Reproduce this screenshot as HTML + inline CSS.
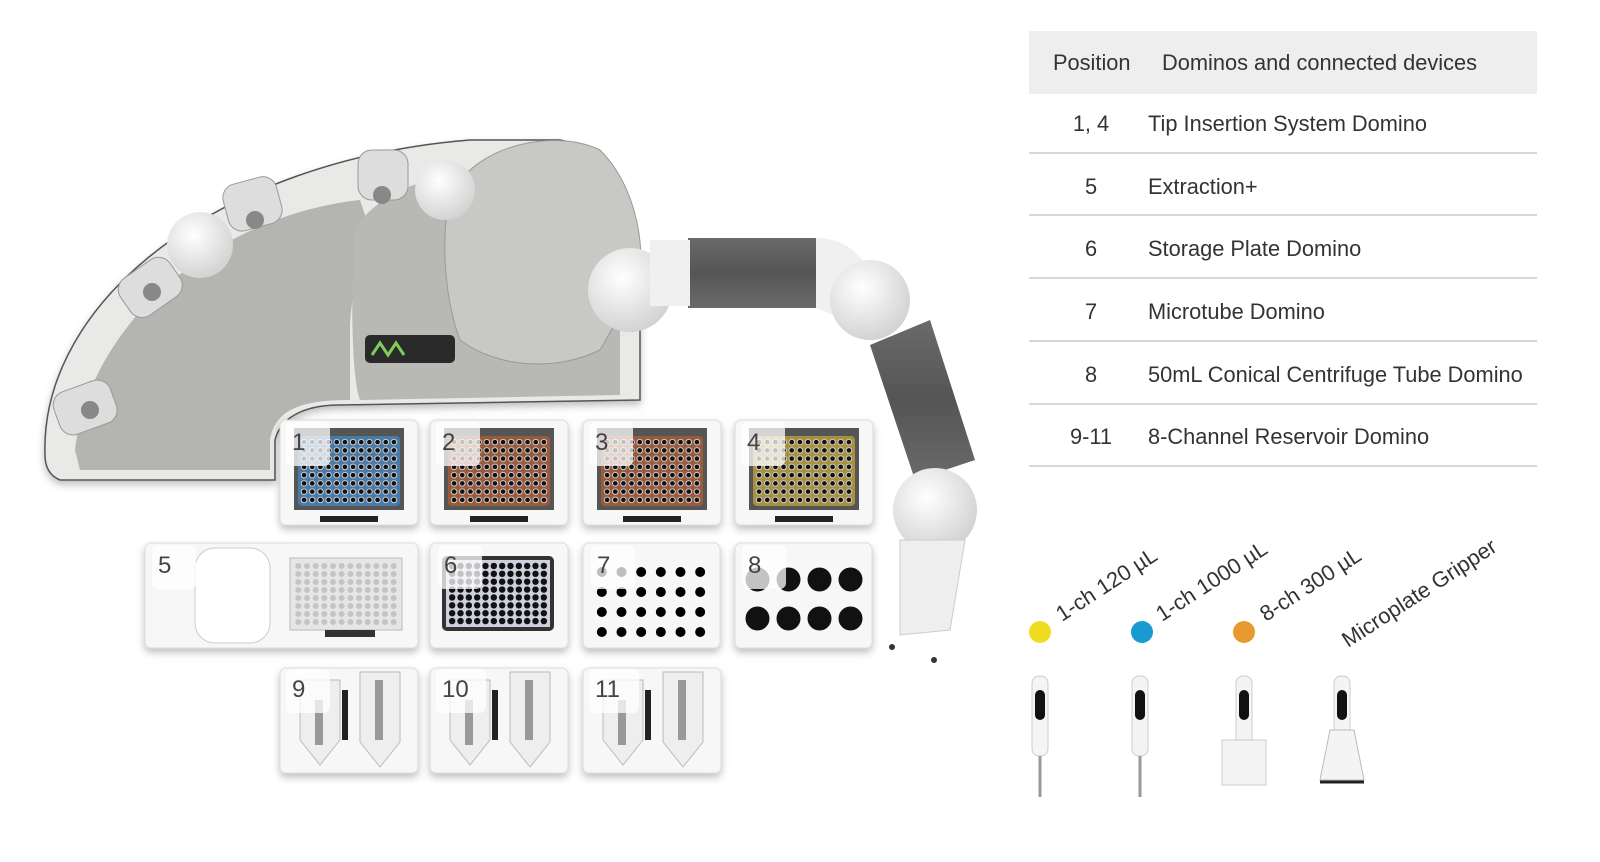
<!DOCTYPE html>
<html><head><meta charset="utf-8"><style>
html,body{margin:0;padding:0;background:#fff;width:1600px;height:862px;overflow:hidden;font-family:"Liberation Sans","DejaVu Sans",sans-serif;}
svg{position:absolute;left:0;top:0}
</style></head><body>
<svg id="s" width="1600" height="862" viewBox="0 0 1600 862" xmlns="http://www.w3.org/2000/svg">
<defs>
<linearGradient id="carbon" x1="0" y1="0" x2="0" y2="1"><stop offset="0" stop-color="#6a6a6a"/><stop offset="0.5" stop-color="#555"/><stop offset="1" stop-color="#6a6a6a"/></linearGradient>
<radialGradient id="ball" cx="0.4" cy="0.35" r="0.7"><stop offset="0" stop-color="#fff"/><stop offset="1" stop-color="#d0d0d0"/></radialGradient>
<filter id="sh" x="-10%" y="-10%" width="130%" height="140%"><feDropShadow dx="0" dy="4" stdDeviation="4" flood-color="#000" flood-opacity="0.25"/></filter>
</defs>
<path d="M45,455 C40,300 220,160 470,140 L560,140 C610,150 640,230 640,300 L640,400 L340,405 C300,405 280,420 275,440 L275,480 L60,480 C48,475 45,465 45,455 Z" fill="#e9e9e7" stroke="#555" stroke-width="1.5" filter="url(#sh)"/>
<path d="M75,450 C90,320 220,215 360,200 L370,230 C360,260 350,300 350,330 L350,400 C300,400 275,410 270,440 L270,470 L80,470 Z" fill="#b4b4b0"/>
<path d="M355,230 C370,200 420,175 480,170 L560,180 C600,200 620,260 620,320 L620,395 L360,400 C352,380 350,300 355,230Z" fill="#b8b8b4"/>
<rect x="365" y="335" width="90" height="28" rx="5" fill="#2a2a2a"/>
<path d="M372,355 l8,-12 l8,12 l8,-12 l8,12" stroke="#7fcc5a" stroke-width="3" fill="none"/>
<path d="M450,195 C480,140 560,130 600,150 C630,180 645,230 640,280 L600,350 C560,370 500,370 460,340 C445,300 440,240 450,195Z" fill="#c8c8c4" stroke="#999"/>
<circle cx="200" cy="245" r="33" fill="url(#ball)"/>
<circle cx="445" cy="190" r="30" fill="url(#ball)"/>
<g fill="#ddd" stroke="#999">
<rect x="55" y="385" width="60" height="45" rx="14" transform="rotate(-20 85 407)"/>
<rect x="120" y="265" width="60" height="45" rx="14" transform="rotate(-35 150 287)"/>
<rect x="225" y="180" width="55" height="48" rx="14" transform="rotate(-15 252 204)"/>
<rect x="358" y="150" width="50" height="50" rx="14"/>
</g>
<g fill="#888"><circle cx="90" cy="410" r="9"/><circle cx="152" cy="292" r="9"/><circle cx="255" cy="220" r="9"/><circle cx="382" cy="195" r="9"/></g>
<circle cx="630" cy="290" r="42" fill="url(#ball)"/>
<rect x="688" y="238" width="128" height="70" fill="url(#carbon)"/>
<rect x="650" y="240" width="40" height="66" fill="#f0f0f0"/>
<path d="M816,238 C850,238 870,260 880,300 L870,330 L816,308Z" fill="#f0f0f0"/>
<circle cx="870" cy="300" r="40" fill="url(#ball)"/>
<path d="M870,345 L930,320 L975,460 L915,480Z" fill="url(#carbon)"/>
<circle cx="935" cy="510" r="42" fill="url(#ball)"/>
<path d="M900,540 L965,540 L950,630 L900,635Z" fill="#eee" stroke="#ccc"/>
<circle cx="892" cy="647" r="3" fill="#333"/><circle cx="934" cy="660" r="3" fill="#333"/>
<g id="dom"></g>
<rect x="1029" y="31" width="508" height="63" fill="#eeeeee"/>
<g stroke="#ccc" stroke-width="1.5"><line x1="1029" y1="153" x2="1537" y2="153"/><line x1="1029" y1="215" x2="1537" y2="215"/><line x1="1029" y1="278" x2="1537" y2="278"/><line x1="1029" y1="341" x2="1537" y2="341"/><line x1="1029" y1="404" x2="1537" y2="404"/><line x1="1029" y1="466" x2="1537" y2="466"/></g>
<g font-family="Liberation Sans, sans-serif" font-size="21.8" fill="#333">
<text x="1053" y="70">Position</text><text x="1162" y="70">Dominos and connected devices</text>
<g text-anchor="middle"><text x="1091" y="131">1, 4</text><text x="1091" y="194">5</text><text x="1091" y="256">6</text><text x="1091" y="319">7</text><text x="1091" y="382">8</text><text x="1091" y="444">9-11</text></g>
<text x="1148" y="131">Tip Insertion System Domino</text><text x="1148" y="194">Extraction+</text><text x="1148" y="256">Storage Plate Domino</text><text x="1148" y="319">Microtube Domino</text><text x="1148" y="382">50mL Conical Centrifuge Tube Domino</text><text x="1148" y="444">8-Channel Reservoir Domino</text>
<text transform="translate(1062,622) rotate(-33)">1-ch 120 µL</text>
<text transform="translate(1162,622) rotate(-33)">1-ch 1000 µL</text>
<text transform="translate(1266,622) rotate(-33)">8-ch 300 µL</text>
<text transform="translate(1348,648) rotate(-33)">Microplate Gripper</text>
</g>
<circle cx="1040" cy="632" r="11" fill="#f0dc1e"/><circle cx="1142" cy="632" r="11" fill="#1a9bd0"/><circle cx="1244" cy="632" r="11" fill="#e89a30"/>
<g id="pip"></g>
</svg>
<script>
var d=document.getElementById('dom'),h='';
function well(x,y,w,hh,c,r,rad,fill,stroke){var s='';for(var i=0;i<c;i++)for(var j=0;j<r;j++){s+='<circle cx="'+(x+w*(i+.5)/c)+'" cy="'+(y+hh*(j+.5)/r)+'" r="'+rad+'" fill="'+fill+'" stroke="'+(stroke||'none')+'"/>';}return s;}
function box(x,y,w,hh){return '<rect x="'+x+'" y="'+y+'" width="'+w+'" height="'+hh+'" rx="6" fill="#f7f7f7" stroke="#ddd" filter="url(#sh)"/>';}
function lab(x,y,t){return '<rect x="'+(x-6)+'" y="'+(y-28)+'" width="'+(t.length>1?50:44)+'" height="44" rx="6" fill="#fff" opacity="0.75"/><text x="'+x+'" y="'+y+'" font-size="24" fill="#444" font-family="Liberation Sans,sans-serif">'+t+'</text>';}
var cols=[280,430,583,735],plates=['#4a7aa8','#9a5a3c','#9a5a3c','#a89040'];
for(var k=0;k<4;k++){var x=cols[k];h+=box(x,420,138,105);h+='<rect x="'+(x+14)+'" y="428" width="110" height="82" fill="#555"/><rect x="'+(x+18)+'" y="436" width="102" height="70" rx="4" fill="'+plates[k]+'"/>'+well(x+20,438,98,66,12,8,2.8,'#111','#ccc')+'<rect x="'+(x+40)+'" y="516" width="58" height="6" fill="#222"/>';h+=lab(x+12,450,String([1,2,3,4][k]));}
h+=box(145,543,273,105)+'<rect x="195" y="548" width="75" height="95" rx="20" fill="#fff" stroke="#ccc"/><rect x="290" y="558" width="112" height="72" fill="#e6e6e6" stroke="#bbb"/>'+well(294,562,104,64,12,8,3,'#c4c4c4')+'<rect x="325" y="630" width="50" height="7" fill="#333"/>'+lab(158,573,'5');
h+=box(430,543,138,105)+'<rect x="442" y="556" width="112" height="75" rx="5" fill="#333"/><rect x="446" y="560" width="104" height="67" fill="#cfd0de"/>'+well(448,562,100,63,12,8,3.2,'#111')+lab(444,573,'6');
h+=box(583,543,137,105)+well(592,562,118,80,6,4,5,'#000')+lab(597,573,'7');
h+=box(735,543,137,105)+well(742,560,124,78,4,2,12,'#111')+lab(748,573,'8');
for(var k=0;k<3;k++){var x=[280,430,583][k];h+=box(x,668,138,105)+'<path d="M'+(x+20)+',680 h40 v60 l-20,25 l-20,-25z" fill="#eee" stroke="#bbb"/><path d="M'+(x+80)+',672 h40 v70 l-20,25 l-20,-25z" fill="#eee" stroke="#bbb"/><rect x="'+(x+95)+'" y="680" width="8" height="60" fill="#999"/><rect x="'+(x+35)+'" y="700" width="8" height="45" fill="#999"/><rect x="'+(x+62)+'" y="690" width="6" height="50" fill="#222"/>'+lab(x+12,697,String(9+k));}
d.innerHTML=h;
var p='';[1040,1140,1244,1342].forEach(function(x,i){p+='<rect x="'+(x-8)+'" y="676" width="16" height="80" rx="7" fill="#f4f4f4" stroke="#ccc"/><rect x="'+(x-5)+'" y="690" width="10" height="30" rx="5" fill="#111"/>';if(i<2)p+='<line x1="'+x+'" y1="756" x2="'+x+'" y2="797" stroke="#999" stroke-width="3"/>';if(i==2)p+='<rect x="'+(x-22)+'" y="740" width="44" height="45" fill="#f4f4f4" stroke="#ccc"/>';if(i==3)p+='<path d="M'+(x-22)+',780 l10,-50 h24 l10,50z" fill="#f4f4f4" stroke="#bbb"/><line x1="'+(x-22)+'" y1="782" x2="'+(x+22)+'" y2="782" stroke="#222" stroke-width="3"/>';});
document.getElementById('pip').innerHTML=p;
</script>
</body></html>
